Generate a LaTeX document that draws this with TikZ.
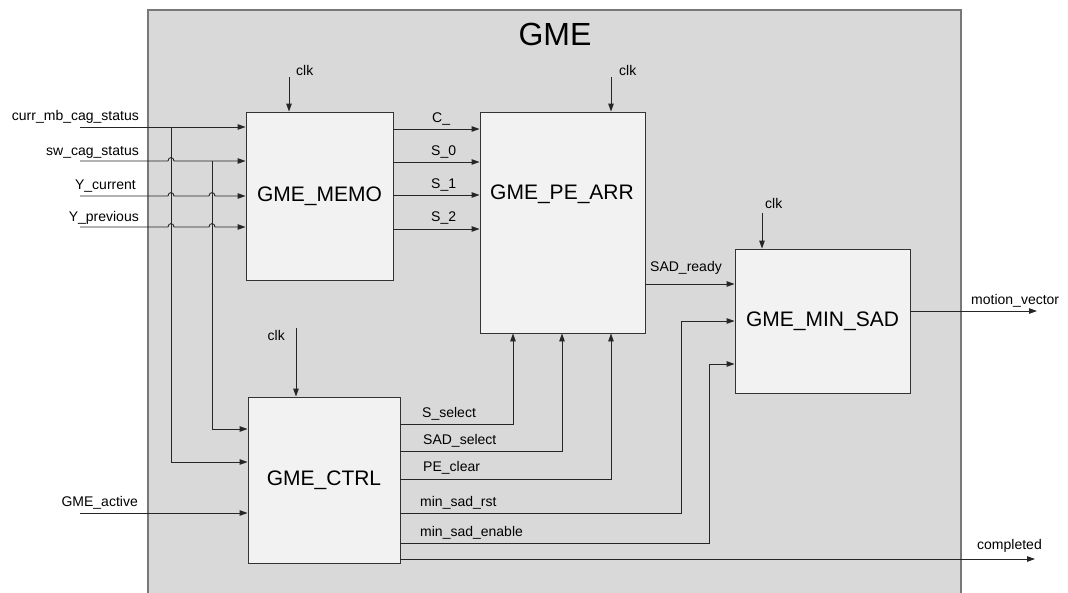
\documentclass[tikz,border=0pt]{standalone}
\usepackage{fontspec}
\setmainfont{Liberation Sans}
\usetikzlibrary{arrows.meta,calc,positioning}
\definecolor{gmegray}{RGB}{217,217,217}
\definecolor{blockgray}{RGB}{242,242,242}
\definecolor{edgegray}{RGB}{120,120,120}
\tikzset{
  outer/.style={
    draw=edgegray,
    fill=gmegray,
    line width=1.3pt
  },
  titulo/.style={
    inner sep=0pt,
    font=\fontsize{32}{36}\selectfont
  },
  blk/.style={
    draw=black!80,
    fill=blockgray,
    line width=0.9pt,
    inner sep=0pt,
    font=\fontsize{21}{24}\selectfont
  },
  sig/.style={
    inner sep=0pt,
    font=\fontsize{14}{16}\selectfont
  },
  wire/.style={
    -{Triangle[length=8pt,width=5.5pt]},
    line width=0.9pt,
    black!85
  }
}

\begin{document}
\begin{tikzpicture}[x=1pt,y=-1pt]
\useasboundingbox (0,0) rectangle (1068,592);
\draw[outer] (148,10) rectangle (961,620);
\node[titulo] (gme) at (555,34) {GME};

% blocks
\node[blk, minimum width=147pt, minimum height=168pt] (memo) at (319.5,196) {GME\_MEMO};
\node[blk, minimum width=165pt, minimum height=221pt] (pearr) at (562.5,222.5) {};
\node[blk, draw=none, fill=none] (pelbl) at (562,194) {GME\_PE\_ARR};
\node[blk, minimum width=175pt, minimum height=144pt] (minsad) at (822.5,321) {GME\_MIN\_SAD};
\node[blk, minimum width=152pt, minimum height=166pt] (ctrl) at (324,480) {GME\_CTRL};

% clocks
\coordinate (clkA) at (289,77);
\coordinate (clkB) at (611,77);
\coordinate (clkC) at (762,213);
\coordinate (clkD) at (296,328);
\node[sig, anchor=west] (clkAl) at (296,70) {clk};
\node[sig, anchor=west] (clkBl) at (619,70) {clk};
\node[sig, anchor=west] (clkCl) at (765,203) {clk};
\node[sig, anchor=east] (clkDl) at (285,335) {clk};
\draw[wire] (clkA) -- (clkA |- memo.north);
\draw[wire] (clkB) -- (clkB |- pearr.north);
\draw[wire] (clkC) -- (clkC |- minsad.north);
\draw[wire] (clkD) -- (clkD |- ctrl.north);

% inputs
\coordinate (inA) at (80,127);
\coordinate (inB) at (80,161);
\coordinate (inC) at (80,196);
\coordinate (inD) at (80,227);
\coordinate (inE) at (80,513);
\node[sig, anchor=east] (inAl) at (139,117) {curr\_mb\_cag\_status};
\node[sig, anchor=east] (inBl) at (139,152) {sw\_cag\_status};
\node[sig, anchor=east] (inCl) at (136,186) {Y\_current};
\node[sig, anchor=east] (inDl) at (139,218) {Y\_previous};
\node[sig, anchor=east] (inEl) at (138,503) {GME\_active};
\draw[wire] (inA) -- (memo.west |- inA);
\draw[wire] (inB) -- (168,161) .. controls +(0,-4.5) and +(0,-4.5) .. (174,161) -- (memo.west |- inB);
\draw[wire] (inC) -- (168,196) .. controls +(0,-4.5) and +(0,-4.5) .. (174,196)
  -- (209,196) .. controls +(0,-4.5) and +(0,-4.5) .. (215,196) -- (memo.west |- inC);
\draw[wire] (inD) -- (168,227) .. controls +(0,-4.5) and +(0,-4.5) .. (174,227)
  -- (209,227) .. controls +(0,-4.5) and +(0,-4.5) .. (215,227) -- (memo.west |- inD);
\draw[wire] (inE) -- (ctrl.west |- inE);

% branches into GME_CTRL
\coordinate (brA) at (171,127);
\coordinate (brB) at (212,161);
\draw[wire] (brA) |- ([yshift=18pt]ctrl.west);
\draw[wire] (brB) |- ([yshift=51pt]ctrl.west);

% GME_MEMO -> GME_PE_ARR
\coordinate (moA) at (431,129);
\coordinate (moB) at (431,162);
\coordinate (moC) at (431,195);
\coordinate (moD) at (431,229);
\draw[wire] (memo.east |- moA) -- (pearr.west |- moA);
\draw[wire] (memo.east |- moB) -- (pearr.west |- moB);
\draw[wire] (memo.east |- moC) -- (pearr.west |- moC);
\draw[wire] (memo.east |- moD) -- (pearr.west |- moD);
\node[sig, anchor=west] (moAl) at (432,119) {C\_};
\node[sig, anchor=west] (moBl) at (431,152) {S\_0};
\node[sig, anchor=west] (moCl) at (431,185) {S\_1};
\node[sig, anchor=west] (moDl) at (431,218) {S\_2};

% GME_PE_ARR -> GME_MIN_SAD
\coordinate (rdy) at (650,284);
\draw[wire] (pearr.east |- rdy) -- (minsad.west |- rdy);
\node[sig, anchor=west] (rdyl) at (650,268) {SAD\_ready};

% outputs
\coordinate (mv) at (1037,311);
\draw[wire] (minsad.east |- mv) -- (mv);
\node[sig, anchor=west] (mvl) at (971,301) {motion\_vector};
\coordinate (done) at (1035,559);
\draw[wire] (ctrl.east |- done) -- (done);
\node[sig, anchor=west] (donel) at (977,546) {completed};

% GME_CTRL -> GME_PE_ARR, GME_MIN_SAD
\coordinate (bS) at (513,424);
\coordinate (bA) at (562,451);
\coordinate (bP) at (611,479);
\coordinate (bR) at (681,513);
\coordinate (bE) at (709,543);
\draw[wire] (ctrl.east |- bS) -- (bS) -- (bS |- pearr.south);
\draw[wire] (ctrl.east |- bA) -- (bA) -- (bA |- pearr.south);
\draw[wire] (ctrl.east |- bP) -- (bP) -- (bP |- pearr.south);
\draw[wire] (ctrl.east |- bR) -- (bR) |- (minsad.west);
\draw[wire] (ctrl.east |- bE) -- (bE) |- ([yshift=-43pt]minsad.west);
\node[sig, anchor=west] (bSl) at (422,414) {S\_select};
\node[sig, anchor=west] (bAl) at (423,441) {SAD\_select};
\node[sig, anchor=west] (bPl) at (423,468) {PE\_clear};
\node[sig, anchor=west] (bRl) at (420,503) {min\_sad\_rst};
\node[sig, anchor=west] (bEl) at (420,533) {min\_sad\_enable};
\end{tikzpicture}
\end{document}
